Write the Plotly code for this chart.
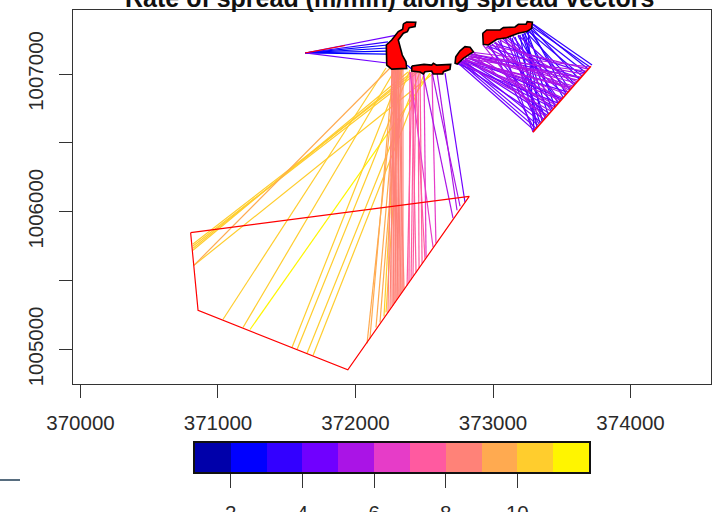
import plotly.graph_objects as go

TITLE = "Rate of spread (m/min) along spread vectors"
X_TICKS = [370000, 371000, 372000, 373000, 374000]
Y_TICKS = [1005000, 1005500, 1006000, 1006500, 1007000]
Y_LABELS = ["1005000", "", "1006000", "", "1007000"]
BAR_TICKS = [2, 4, 6, 8, 10]
BAR_EDGES = [1, 2, 3, 4, 5, 6, 7, 8, 9, 10, 11, 12]
BAR_COLORS = ["#0000AA", "#0000FF", "#3300FF", "#7000FF", "#AA14E6", "#E63CC8",
              "#FF5AA0", "#FF8278", "#FFAA50", "#FFCD2D", "#FFF500"]

# Rate-of-spread vectors, grouped by rate class: start x/y, end x/y
V2_X0 = [371633, 371633, 371633, 371633, 372375]
V2_Y0 = [1007153, 1007153, 1007153, 1007153, 1007065]
V2_X1 = [372236, 372236, 372236, 372236, 372433]
V2_Y1 = [1007211, 1007189, 1007167, 1007145, 1007015]

V3_X0 = [371633, 373276, 373284, 373269, 373255, 373276, 373240, 373262, 373225, 373247, 373211, 373233, 373196, 373255, 373218, 373182, 373160, 373138, 373269, 373291]
V3_Y0 = [1007153, 1007349, 1007364, 1007327, 1007313, 1007342, 1007305, 1007320, 1007298, 1007313, 1007291, 1007298, 1007284, 1007320, 1007291, 1007276, 1007269, 1007262, 1007335, 1007364]
V3_X1 = [372236, 373705, 373691, 373669, 373647, 373625, 373596, 373560, 373509, 373451, 373400, 373356, 373320, 373298, 373429, 373473, 373378, 373342, 373531, 373720]
V3_Y1 = [1007233, 1007051, 1007036, 1007015, 1006985, 1006964, 1006927, 1006884, 1006833, 1006760, 1006709, 1006658, 1006615, 1006585, 1006745, 1006789, 1006680, 1006644, 1006855, 1007065]

V4_X0 = [372651, 371633, 371633, 372745, 372760, 372767, 372782, 372753, 372775, 372796, 372767, 372745, 372978, 373015, 373051, 373087, 373124, 373036, 372964, 372993, 373145, 373073, 373109, 373182, 372956, 373007, 372818, 372804, 372789, 372840]
V4_Y0 = [1007007, 1007153, 1007153, 1007080, 1007087, 1007095, 1007102, 1007080, 1007095, 1007109, 1007087, 1007073, 1007211, 1007233, 1007247, 1007262, 1007269, 1007240, 1007204, 1007218, 1007276, 1007255, 1007262, 1007284, 1007204, 1007225, 1007116, 1007102, 1007095, 1007145]
V4_X1 = [372796, 372309, 372229, 373298, 373313, 373327, 373349, 373371, 373393, 373407, 373436, 373473, 373305, 373335, 373291, 373364, 373320, 373422, 373385, 373458, 373487, 373524, 373560, 373589, 373633, 373669, 373502, 373451, 373545, 373633]
V4_Y1 = [1006069, 1007284, 1007080, 1006593, 1006607, 1006629, 1006651, 1006673, 1006702, 1006716, 1006753, 1006789, 1006593, 1006636, 1006578, 1006665, 1006615, 1006738, 1006695, 1006775, 1006804, 1006847, 1006891, 1006920, 1006971, 1007007, 1006818, 1006760, 1006869, 1006971]

V5_X0 = [372709, 372760, 372738, 372833, 372818, 372796, 372833, 372782, 372818, 372775, 372804, 372760, 372789, 372825, 373051, 373087, 373015, 372847, 372855, 372840, 372862, 372869, 372978, 372949, 372927]
V5_Y0 = [1005953, 1006040, 1006011, 1007160, 1007124, 1007116, 1007138, 1007102, 1007116, 1007095, 1007109, 1007087, 1007102, 1007131, 1007247, 1007262, 1007233, 1007145, 1007131, 1007116, 1007153, 1007131, 1007211, 1007196, 1007211]
V5_X1 = [372491, 372556, 372593, 373705, 373676, 373640, 373604, 373567, 373531, 373495, 373458, 373422, 373575, 373618, 373611, 373545, 373480, 373662, 373582, 373509, 373436, 373385, 373691, 373553, 373364]
V5_Y1 = [1007007, 1007015, 1007007, 1007051, 1007022, 1006978, 1006935, 1006898, 1006855, 1006811, 1006775, 1006731, 1006905, 1006956, 1006942, 1006869, 1006796, 1007000, 1006913, 1006825, 1006753, 1006687, 1007036, 1006884, 1006665]

V6_X0 = [372585, 372564, 372513]
V6_Y0 = [1005771, 1005742, 1005669]
V6_X1 = [372556, 372396, 372498]
V6_Y1 = [1007000, 1007015, 1007015]

V7_X0 = [372375, 372389, 372404, 372418, 372440, 372462, 372484, 372505]
V7_Y0 = [1005465, 1005487, 1005509, 1005531, 1005560, 1005589, 1005625, 1005655]
V7_X1 = [372411, 372396, 372425, 372440, 372411, 372455, 372469, 372433]
V7_Y1 = [1007015, 1007015, 1007015, 1007015, 1007015, 1007015, 1007015, 1007015]

V8_X0 = [372236, 372251, 372265, 372273, 372280, 372287, 372295, 372302, 372309, 372316, 372324, 372331, 372338, 372345, 372353]
V8_Y0 = [1005269, 1005291, 1005313, 1005320, 1005335, 1005342, 1005356, 1005364, 1005378, 1005385, 1005393, 1005407, 1005415, 1005429, 1005436]
V8_X1 = [372265, 372280, 372265, 372295, 372273, 372302, 372287, 372316, 372280, 372309, 372324, 372295, 372331, 372345, 372309]
V8_Y1 = [1007044] * 15

V9_X0 = [370825, 372084, 372105, 372149, 372178]
V9_Y0 = [1005611, 1005044, 1005080, 1005160, 1005196]
V9_X1 = [372251, 372295, 372273, 372309, 372324]
V9_Y1 = [1007044, 1007044, 1007044, 1007044, 1007044]

V10_X0 = [370816, 370816, 370818, 370818, 370825, 371036, 371182, 371538, 371575, 371647, 371691, 372207, 372222]
V10_Y0 = [1005764, 1005749, 1005735, 1005720, 1005611, 1005218, 1005160, 1005015, 1005000, 1004971, 1004956, 1005240, 1005269]
V10_X1 = [372433, 372455, 372411, 372382, 372578, 372222, 372295, 372338, 372396, 372469, 372505, 372309, 372338]
V10_Y1 = [1007015, 1007015, 1007015, 1007015, 1007015, 1007044, 1007044, 1007029, 1007029, 1007015, 1007015, 1007044, 1007044]

V11_X0 = [371233]
V11_Y0 = [1005145]
V11_X1 = [372542]
V11_Y1 = [1007007]

# Final perimeter outlines
SOUTH_PERIM_X = [370801, 370855, 371944, 372827, 370801]
SOUTH_PERIM_Y = [1005848, 1005284, 1004852, 1006112, 1005848]
NE_PERIM_X = [373711, 373290]
NE_PERIM_Y = [1007057, 1006578]
W_PERIM_X = [371633, 371924]
W_PERIM_Y = [1007153, 1007207]

# Initial fire polygons
FIRE_A_X = [372348, 372372, 372438, 372433, 372391, 372377, 372348, 372329, 372311, 372324, 372340, 372367, 372372, 372263, 372227, 372224, 372263, 372311, 372343, 372348]
FIRE_A_Y = [1007364, 1007378, 1007376, 1007344, 1007337, 1007308, 1007296, 1007271, 1007247, 1007199, 1007138, 1007089, 1007041, 1007036, 1007065, 1007211, 1007247, 1007308, 1007325, 1007364]
FIRE_B_X = [372409, 372498, 372554, 372566, 372590, 372692, 372687, 372639, 372634, 372566, 372554, 372505, 372493, 372469, 372409, 372409]
FIRE_B_Y = [1007058, 1007070, 1007065, 1007078, 1007065, 1007070, 1007034, 1007017, 1007000, 1007000, 1007022, 1007017, 1007000, 1007015, 1007022, 1007058]
FIRE_C_X = [372729, 372760, 372796, 372833, 372857, 372784, 372740, 372724, 372729]
FIRE_C_Y = [1007126, 1007169, 1007199, 1007194, 1007162, 1007114, 1007073, 1007078, 1007126]
FIRE_D_X = [372925, 372954, 373051, 373075, 373160, 373184, 373240, 373249, 373286, 373281, 373245, 373184, 373100, 373027, 372966, 372929, 372925]
FIRE_D_Y = [1007296, 1007320, 1007320, 1007337, 1007342, 1007361, 1007361, 1007380, 1007376, 1007332, 1007308, 1007296, 1007264, 1007252, 1007211, 1007216, 1007296]

W, H = 727, 512
FONT = "Liberation Sans"
INK = "#2a2a2a"


def segments(x0, y0, x1, y1):
    xs, ys = [], []
    for a, b, c, d in zip(x0, y0, x1, y1):
        xs += [a, c, None]
        ys += [b, d, None]
    return xs, ys


fig = go.Figure()

vector_sets = [
    (2, V2_X0, V2_Y0, V2_X1, V2_Y1),
    (11, V11_X0, V11_Y0, V11_X1, V11_Y1),
    (10, V10_X0, V10_Y0, V10_X1, V10_Y1),
    (9, V9_X0, V9_Y0, V9_X1, V9_Y1),
    (8, V8_X0, V8_Y0, V8_X1, V8_Y1),
    (7, V7_X0, V7_Y0, V7_X1, V7_Y1),
    (6, V6_X0, V6_Y0, V6_X1, V6_Y1),
    (3, V3_X0, V3_Y0, V3_X1, V3_Y1),
    (4, V4_X0, V4_Y0, V4_X1, V4_Y1),
    (5, V5_X0, V5_Y0, V5_X1, V5_Y1),
]
for rate, x0, y0, x1, y1 in vector_sets:
    xs, ys = segments(x0, y0, x1, y1)
    fig.add_trace(go.Scatter(x=xs, y=ys, mode="lines", hoverinfo="skip",
                             line=dict(color=BAR_COLORS[rate - 1], width=1.2)))

for px, py, lw in [(SOUTH_PERIM_X, SOUTH_PERIM_Y, 1.2), (NE_PERIM_X, NE_PERIM_Y, 1.6), (W_PERIM_X, W_PERIM_Y, 1.2)]:
    fig.add_trace(go.Scatter(x=px, y=py, mode="lines", hoverinfo="skip",
                             line=dict(color="#FF0000", width=lw)))

for px, py in [(FIRE_A_X, FIRE_A_Y), (FIRE_B_X, FIRE_B_Y), (FIRE_C_X, FIRE_C_Y), (FIRE_D_X, FIRE_D_Y)]:
    fig.add_trace(go.Scatter(x=px, y=py, mode="lines", fill="toself", fillcolor="#FF0000",
                             hoverinfo="skip", line=dict(color="#000000", width=1.6)))

# Colour key
n = len(BAR_COLORS)
scale = []
for i, c in enumerate(BAR_COLORS):
    scale += [[i / n, c], [(i + 1) / n, c]]
fig.add_trace(go.Heatmap(x=BAR_EDGES, y=[0, 1],
                         z=[[e + 0.5 for e in BAR_EDGES[:-1]]],
                         zmin=BAR_EDGES[0], zmax=BAR_EDGES[-1],
                         colorscale=scale, showscale=False, hoverinfo="skip",
                         xaxis="x2", yaxis="y2"))

axis_common = dict(showline=True, linecolor="#333333", linewidth=1, mirror=True, automargin=False,
                   showgrid=False, zeroline=False, ticks="outside", tickwidth=1,
                   tickcolor="#333333", tickfont=dict(family=FONT, size=20.5, color=INK))

fig.update_layout(
    width=W, height=H, autosize=False,
    margin=dict(l=0, r=0, t=0, b=0),
    paper_bgcolor="white", plot_bgcolor="white", showlegend=False,
    xaxis=dict(domain=[72.5 / W, 711 / W], range=[369942, 374585],
               tickvals=X_TICKS, ticktext=[str(v) for v in X_TICKS], ticklen=13,
               ticklabelstandoff=8, **axis_common),
    yaxis=dict(domain=[(H - 383.5) / H, (H - 10) / H], range=[1004753, 1007465],
               tickvals=Y_TICKS, ticktext=Y_LABELS, ticklen=13, tickangle=-90,
               ticklabelstandoff=7, **axis_common),
    xaxis2=dict(domain=[195 / W, 589 / W], range=[1, 12], anchor="y2", automargin=False,
                tickvals=BAR_TICKS, ticktext=[str(v) for v in BAR_TICKS], ticklen=14,
                ticklabelstandoff=8,
                showline=True, linecolor="#111111", linewidth=1.5, mirror=True,
                showgrid=False, zeroline=False, ticks="outside", tickwidth=1,
                tickcolor="#333333", tickfont=dict(family=FONT, size=20.5, color=INK)),
    yaxis2=dict(domain=[(H - 472) / H, (H - 443) / H], range=[0, 1], anchor="x2", automargin=False,
                showline=True, linecolor="#111111", linewidth=1.5, mirror=True,
                showgrid=False, zeroline=False, showticklabels=False, ticks=""),
    annotations=[dict(text="<b>" + TITLE + "</b>", xref="paper", yref="paper",
                      x=389 / W, y=(H + 2) / H, xanchor="center", yanchor="middle",
                      showarrow=False, font=dict(family=FONT, size=25, color="#111111"))],
    shapes=[dict(type="line", xref="paper", yref="paper", x0=0, x1=20 / W,
                 y0=(H - 480) / H, y1=(H - 480) / H,
                 line=dict(color="#1f3d55", width=1.5))],
)

fig.write_html("out.html", config=dict(displayModeBar=False),
               post_script="document.body.style.margin='0';document.body.style.overflow='hidden';")
